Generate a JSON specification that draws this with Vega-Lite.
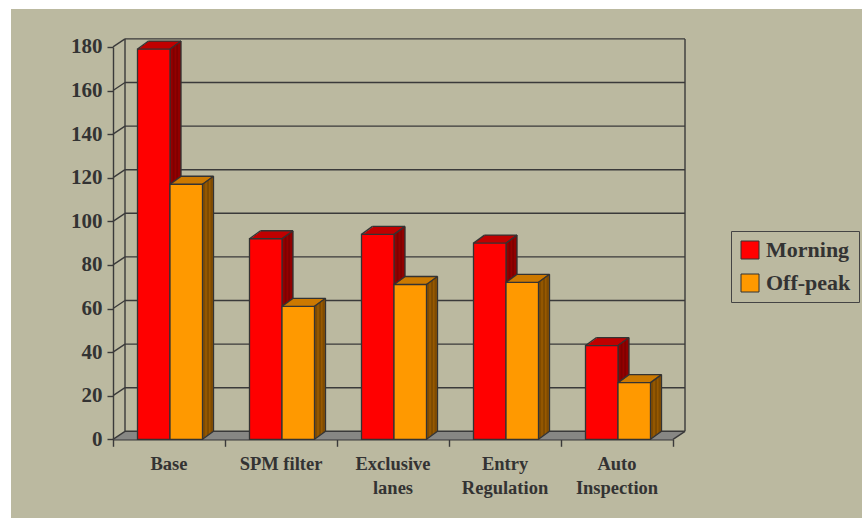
{
  "$schema": "https://vega.github.io/schema/vega-lite/v6.json",
  "width": 851,
  "height": 509,
  "autosize": {"type": "none"},
  "padding": {"left": 11, "top": 9, "right": 0, "bottom": 0},
  "background": "white",
  "config": {"view": {"fill": "#BBB9A0", "stroke": null}, "font": "Liberation Serif"},
  "datasets": {
    "bars": [
      {"cat": "Base", "s": "Morning", "v": 179},
      {"cat": "Base", "s": "Off-peak", "v": 117},
      {"cat": "SPM filter", "s": "Morning", "v": 92},
      {"cat": "SPM filter", "s": "Off-peak", "v": 61},
      {"cat": "Exclusive lanes", "s": "Morning", "v": 94},
      {"cat": "Exclusive lanes", "s": "Off-peak", "v": 71},
      {"cat": "Entry Regulation", "s": "Morning", "v": 90},
      {"cat": "Entry Regulation", "s": "Off-peak", "v": 72},
      {"cat": "Auto Inspection", "s": "Morning", "v": 43},
      {"cat": "Auto Inspection", "s": "Off-peak", "v": 26}
    ],
    "ticks": [{"t": 0}, {"t": 20}, {"t": 40}, {"t": 60}, {"t": 80}, {"t": 100}, {"t": 120}, {"t": 140}, {"t": 160}, {"t": 180}]
  },
  "resolve": {"scale": {"x": "independent"}},
  "layer": [
    {
      "data": {"values": [{}]},
      "encoding": {
        "x": {"datum": 0, "type": "quantitative", "scale": {"domain": [0, 1], "range": [102, 662]},
          "axis": {"orient": "bottom", "offset": -78.7, "title": null, "values": [0, 0.2, 0.4, 0.6, 0.8, 1], "labels": false, "grid": false,
            "tickSize": 7, "tickWidth": 1.4, "tickColor": "#3a3a3a", "domainColor": "#3a3a3a", "domainWidth": 1.4}},
        "x2": {"datum": 1}
      },
      "layer": [
        {"mark": {"type": "rule", "color": "#808080", "strokeWidth": 1.25, "strokeCap": "butt", "xOffset": 0.75, "x2Offset": 0.75, "yOffset": -0.5, "y2Offset": -0.5}, "encoding": {"y": {"datum": 0, "type": "quantitative"}, "y2": {"datum": 0}}},
        {"mark": {"type": "rule", "color": "#808080", "strokeWidth": 1.25, "strokeCap": "butt", "xOffset": 2.25, "x2Offset": 2.25, "yOffset": -1.5, "y2Offset": -1.5}, "encoding": {"y": {"datum": 0, "type": "quantitative"}, "y2": {"datum": 0}}},
        {"mark": {"type": "rule", "color": "#808080", "strokeWidth": 1.25, "strokeCap": "butt", "xOffset": 3.75, "x2Offset": 3.75, "yOffset": -2.5, "y2Offset": -2.5}, "encoding": {"y": {"datum": 0, "type": "quantitative"}, "y2": {"datum": 0}}},
        {"mark": {"type": "rule", "color": "#808080", "strokeWidth": 1.25, "strokeCap": "butt", "xOffset": 5.25, "x2Offset": 5.25, "yOffset": -3.5, "y2Offset": -3.5}, "encoding": {"y": {"datum": 0, "type": "quantitative"}, "y2": {"datum": 0}}},
        {"mark": {"type": "rule", "color": "#808080", "strokeWidth": 1.25, "strokeCap": "butt", "xOffset": 6.75, "x2Offset": 6.75, "yOffset": -4.5, "y2Offset": -4.5}, "encoding": {"y": {"datum": 0, "type": "quantitative"}, "y2": {"datum": 0}}},
        {"mark": {"type": "rule", "color": "#808080", "strokeWidth": 1.25, "strokeCap": "butt", "xOffset": 8.25, "x2Offset": 8.25, "yOffset": -5.5, "y2Offset": -5.5}, "encoding": {"y": {"datum": 0, "type": "quantitative"}, "y2": {"datum": 0}}},
        {"mark": {"type": "rule", "color": "#808080", "strokeWidth": 1.25, "strokeCap": "butt", "xOffset": 9.75, "x2Offset": 9.75, "yOffset": -6.5, "y2Offset": -6.5}, "encoding": {"y": {"datum": 0, "type": "quantitative"}, "y2": {"datum": 0}}},
        {"mark": {"type": "rule", "color": "#808080", "strokeWidth": 1.25, "strokeCap": "butt", "xOffset": 11.25, "x2Offset": 11.25, "yOffset": -7.5, "y2Offset": -7.5}, "encoding": {"y": {"datum": 0, "type": "quantitative"}, "y2": {"datum": 0}}},
        {
          "data": {"name": "ticks"},
          "mark": {"type": "rule", "color": "#3a3a3a", "strokeWidth": 1.4, "xOffset": 12, "x2Offset": 12, "yOffset": -8, "y2Offset": -8},
          "encoding": {"y": {"field": "t", "type": "quantitative"}, "y2": {"field": "t"}}
        },
        {
          "data": {"name": "ticks"},
          "mark": {"type": "rule", "color": "#3a3a3a", "strokeWidth": 1.4, "x2Offset": 12, "y2Offset": -8},
          "encoding": {"x2": {"datum": 0}, "y": {"field": "t", "type": "quantitative"}, "y2": {"field": "t"}}
        },
        {
          "mark": {"type": "rule", "color": "#3a3a3a", "strokeWidth": 1.4, "xOffset": 12, "x2Offset": 12, "yOffset": -8, "y2Offset": -8},
          "encoding": {"x2": {"datum": 0}, "y": {"datum": 0, "type": "quantitative"}, "y2": {"datum": 180}}
        },
        {
          "mark": {"type": "rule", "color": "#3a3a3a", "strokeWidth": 1.4, "xOffset": 12, "x2Offset": 12, "yOffset": -8, "y2Offset": -8},
          "encoding": {"x": {"datum": 1, "type": "quantitative"}, "x2": {"datum": 1}, "y": {"datum": 0, "type": "quantitative"}, "y2": {"datum": 180}}
        },
        {
          "mark": {"type": "rule", "color": "#3a3a3a", "strokeWidth": 1.4, "x2Offset": 12, "y2Offset": -8},
          "encoding": {"x": {"datum": 1, "type": "quantitative"}, "x2": {"datum": 1}, "y": {"datum": 0, "type": "quantitative"}, "y2": {"datum": 0}}
        }
      ]
    },
    {
      "data": {"name": "bars"},
      "encoding": {
        "x": {
          "field": "cat", "type": "nominal",
          "scale": {"domain": ["Base", "SPM filter", "Exclusive lanes", "Entry Regulation", "Auto Inspection"], "range": [102, 662], "paddingInner": 0.42, "paddingOuter": 0.21},
          "axis": {
            "orient": "bottom", "offset": -78.7, "title": null, "ticks": false, "domain": false,
            "labelAngle": 0, "labelPadding": 15, "labelFont": "Liberation Serif", "labelFontSize": 18.5,
            "labelFontWeight": "bold", "labelColor": "#333333", "labelLineHeight": 24,
            "labelExpr": "datum.label == 'SPM filter' || datum.label == 'Base' ? datum.label : split(datum.label, ' ')"
          }
        },
        "y": {
          "field": "v", "type": "quantitative",
          "scale": {"domain": [0, 180], "range": [430.3, 37.9], "nice": false, "zero": true},
          "axis": {
            "orient": "left", "offset": -102, "title": null, "values": [0, 20, 40, 60, 80, 100, 120, 140, 160, 180], "grid": false,
            "tickSize": 6, "tickWidth": 1.4, "tickColor": "#3a3a3a", "domainColor": "#3a3a3a", "domainWidth": 1.4,
            "labelPadding": 5, "labelFont": "Liberation Serif", "labelFontSize": 21, "labelFontWeight": "bold", "labelColor": "#333333"
          }
        }
      },
      "layer": [
        {"transform": [{"filter": "datum.s == 'Morning'"}], "mark": {"type": "bar", "width": 32.5, "xOffset": -4.25, "yOffset": -8, "y2Offset": -8, "color": "#C00000"}, "encoding": {"y2": {"datum": 0}}},
        {"transform": [{"filter": "datum.s == 'Morning'"}], "mark": {"type": "bar", "width": 1.5, "xOffset": 11.3125, "yOffset": -8, "y2Offset": -8, "color": "#800000"}, "encoding": {"y2": {"datum": 0}}},
        {"transform": [{"filter": "datum.s == 'Morning'"}], "mark": {"type": "bar", "width": 32.5, "xOffset": -5.625, "yOffset": -7, "y2Offset": -7, "color": "#C00000"}, "encoding": {"y2": {"datum": 0}}},
        {"transform": [{"filter": "datum.s == 'Morning'"}], "mark": {"type": "bar", "width": 1.5, "xOffset": 9.9375, "yOffset": -7, "y2Offset": -7, "color": "#800000"}, "encoding": {"y2": {"datum": 0}}},
        {"transform": [{"filter": "datum.s == 'Morning'"}], "mark": {"type": "bar", "width": 32.5, "xOffset": -7, "yOffset": -6, "y2Offset": -6, "color": "#C00000"}, "encoding": {"y2": {"datum": 0}}},
        {"transform": [{"filter": "datum.s == 'Morning'"}], "mark": {"type": "bar", "width": 1.5, "xOffset": 8.5625, "yOffset": -6, "y2Offset": -6, "color": "#800000"}, "encoding": {"y2": {"datum": 0}}},
        {"transform": [{"filter": "datum.s == 'Morning'"}], "mark": {"type": "bar", "width": 32.5, "xOffset": -8.375, "yOffset": -5, "y2Offset": -5, "color": "#C00000"}, "encoding": {"y2": {"datum": 0}}},
        {"transform": [{"filter": "datum.s == 'Morning'"}], "mark": {"type": "bar", "width": 1.5, "xOffset": 7.1875, "yOffset": -5, "y2Offset": -5, "color": "#800000"}, "encoding": {"y2": {"datum": 0}}},
        {"transform": [{"filter": "datum.s == 'Morning'"}], "mark": {"type": "bar", "width": 32.5, "xOffset": -9.75, "yOffset": -4, "y2Offset": -4, "color": "#C00000"}, "encoding": {"y2": {"datum": 0}}},
        {"transform": [{"filter": "datum.s == 'Morning'"}], "mark": {"type": "bar", "width": 1.5, "xOffset": 5.8125, "yOffset": -4, "y2Offset": -4, "color": "#800000"}, "encoding": {"y2": {"datum": 0}}},
        {"transform": [{"filter": "datum.s == 'Morning'"}], "mark": {"type": "bar", "width": 32.5, "xOffset": -11.125, "yOffset": -3, "y2Offset": -3, "color": "#C00000"}, "encoding": {"y2": {"datum": 0}}},
        {"transform": [{"filter": "datum.s == 'Morning'"}], "mark": {"type": "bar", "width": 1.5, "xOffset": 4.4375, "yOffset": -3, "y2Offset": -3, "color": "#800000"}, "encoding": {"y2": {"datum": 0}}},
        {"transform": [{"filter": "datum.s == 'Morning'"}], "mark": {"type": "bar", "width": 32.5, "xOffset": -12.5, "yOffset": -2, "y2Offset": -2, "color": "#C00000"}, "encoding": {"y2": {"datum": 0}}},
        {"transform": [{"filter": "datum.s == 'Morning'"}], "mark": {"type": "bar", "width": 1.5, "xOffset": 3.0625, "yOffset": -2, "y2Offset": -2, "color": "#800000"}, "encoding": {"y2": {"datum": 0}}},
        {"transform": [{"filter": "datum.s == 'Morning'"}], "mark": {"type": "bar", "width": 32.5, "xOffset": -13.875, "yOffset": -1, "y2Offset": -1, "color": "#C00000"}, "encoding": {"y2": {"datum": 0}}},
        {"transform": [{"filter": "datum.s == 'Morning'"}], "mark": {"type": "bar", "width": 1.5, "xOffset": 1.6875, "yOffset": -1, "y2Offset": -1, "color": "#800000"}, "encoding": {"y2": {"datum": 0}}},
        {
          "transform": [{"filter": "datum.s == 'Morning'"}],
          "mark": {"type": "bar", "width": 32.5, "xOffset": -15.25, "stroke": "#333333", "strokeWidth": 1.3},
          "encoding": {"y2": {"datum": 0}, "color": {"field": "s", "type": "nominal", "scale": {"domain": ["Morning", "Off-peak"], "range": ["#FF0000", "#FF9900"]},
            "legend": {"title": null, "orient": "none", "legendX": 720, "legendY": 222, "symbolType": "square", "symbolSize": 324, "symbolStrokeColor": "#333333", "symbolStrokeWidth": 1,
              "labelFont": "Liberation Serif", "labelFontSize": 22, "labelFontWeight": "bold", "labelColor": "#333333", "labelOffset": 5, "rowPadding": 11, "padding": 8, "strokeColor": "#444444", "labelLimit": 300}}}
        },
        {"transform": [{"filter": "datum.s == 'Morning'"}], "mark": {"type": "bar", "width": 32.5, "xOffset": -4.25, "yOffset": -8, "y2Offset": -8, "fillOpacity": 0, "stroke": "#333333", "strokeWidth": 1.3}, "encoding": {"y2": {"field": "v"}}},
        {"transform": [{"filter": "datum.s == 'Morning'"}], "mark": {"type": "rule", "xOffset": 12, "yOffset": -8, "y2Offset": -8, "color": "#333333", "strokeWidth": 1.3}, "encoding": {"y2": {"datum": 0}}},
        {"transform": [{"filter": "datum.s == 'Morning'"}], "mark": {"type": "rule", "xOffset": -31.5, "x2Offset": -20.5, "y2Offset": -8, "color": "#333333", "strokeWidth": 1.3}, "encoding": {"x2": {"field": "cat"}, "y2": {"field": "v"}}},
        {"transform": [{"filter": "datum.s == 'Morning'"}], "mark": {"type": "rule", "xOffset": 1, "x2Offset": 12, "y2Offset": -8, "color": "#333333", "strokeWidth": 1.3}, "encoding": {"x2": {"field": "cat"}, "y2": {"field": "v"}}},

        {"transform": [{"filter": "datum.s == 'Off-peak'"}], "mark": {"type": "bar", "width": 32.5, "xOffset": 28.25, "yOffset": -8, "y2Offset": -8, "color": "#CC7A00"}, "encoding": {"y2": {"datum": 0}}},
        {"transform": [{"filter": "datum.s == 'Off-peak'"}], "mark": {"type": "bar", "width": 1.5, "xOffset": 43.8125, "yOffset": -8, "y2Offset": -8, "color": "#7F4B00"}, "encoding": {"y2": {"datum": 0}}},
        {"transform": [{"filter": "datum.s == 'Off-peak'"}], "mark": {"type": "bar", "width": 32.5, "xOffset": 26.875, "yOffset": -7, "y2Offset": -7, "color": "#CC7A00"}, "encoding": {"y2": {"datum": 0}}},
        {"transform": [{"filter": "datum.s == 'Off-peak'"}], "mark": {"type": "bar", "width": 1.5, "xOffset": 42.4375, "yOffset": -7, "y2Offset": -7, "color": "#7F4B00"}, "encoding": {"y2": {"datum": 0}}},
        {"transform": [{"filter": "datum.s == 'Off-peak'"}], "mark": {"type": "bar", "width": 32.5, "xOffset": 25.5, "yOffset": -6, "y2Offset": -6, "color": "#CC7A00"}, "encoding": {"y2": {"datum": 0}}},
        {"transform": [{"filter": "datum.s == 'Off-peak'"}], "mark": {"type": "bar", "width": 1.5, "xOffset": 41.0625, "yOffset": -6, "y2Offset": -6, "color": "#7F4B00"}, "encoding": {"y2": {"datum": 0}}},
        {"transform": [{"filter": "datum.s == 'Off-peak'"}], "mark": {"type": "bar", "width": 32.5, "xOffset": 24.125, "yOffset": -5, "y2Offset": -5, "color": "#CC7A00"}, "encoding": {"y2": {"datum": 0}}},
        {"transform": [{"filter": "datum.s == 'Off-peak'"}], "mark": {"type": "bar", "width": 1.5, "xOffset": 39.6875, "yOffset": -5, "y2Offset": -5, "color": "#7F4B00"}, "encoding": {"y2": {"datum": 0}}},
        {"transform": [{"filter": "datum.s == 'Off-peak'"}], "mark": {"type": "bar", "width": 32.5, "xOffset": 22.75, "yOffset": -4, "y2Offset": -4, "color": "#CC7A00"}, "encoding": {"y2": {"datum": 0}}},
        {"transform": [{"filter": "datum.s == 'Off-peak'"}], "mark": {"type": "bar", "width": 1.5, "xOffset": 38.3125, "yOffset": -4, "y2Offset": -4, "color": "#7F4B00"}, "encoding": {"y2": {"datum": 0}}},
        {"transform": [{"filter": "datum.s == 'Off-peak'"}], "mark": {"type": "bar", "width": 32.5, "xOffset": 21.375, "yOffset": -3, "y2Offset": -3, "color": "#CC7A00"}, "encoding": {"y2": {"datum": 0}}},
        {"transform": [{"filter": "datum.s == 'Off-peak'"}], "mark": {"type": "bar", "width": 1.5, "xOffset": 36.9375, "yOffset": -3, "y2Offset": -3, "color": "#7F4B00"}, "encoding": {"y2": {"datum": 0}}},
        {"transform": [{"filter": "datum.s == 'Off-peak'"}], "mark": {"type": "bar", "width": 32.5, "xOffset": 20, "yOffset": -2, "y2Offset": -2, "color": "#CC7A00"}, "encoding": {"y2": {"datum": 0}}},
        {"transform": [{"filter": "datum.s == 'Off-peak'"}], "mark": {"type": "bar", "width": 1.5, "xOffset": 35.5625, "yOffset": -2, "y2Offset": -2, "color": "#7F4B00"}, "encoding": {"y2": {"datum": 0}}},
        {"transform": [{"filter": "datum.s == 'Off-peak'"}], "mark": {"type": "bar", "width": 32.5, "xOffset": 18.625, "yOffset": -1, "y2Offset": -1, "color": "#CC7A00"}, "encoding": {"y2": {"datum": 0}}},
        {"transform": [{"filter": "datum.s == 'Off-peak'"}], "mark": {"type": "bar", "width": 1.5, "xOffset": 34.1875, "yOffset": -1, "y2Offset": -1, "color": "#7F4B00"}, "encoding": {"y2": {"datum": 0}}},
        {
          "transform": [{"filter": "datum.s == 'Off-peak'"}],
          "mark": {"type": "bar", "width": 32.5, "xOffset": 17.25, "stroke": "#333333", "strokeWidth": 1.3},
          "encoding": {"y2": {"datum": 0}, "color": {"field": "s", "type": "nominal", "scale": {"domain": ["Morning", "Off-peak"], "range": ["#FF0000", "#FF9900"]},
            "legend": {"title": null, "orient": "none", "legendX": 720, "legendY": 222, "symbolType": "square", "symbolSize": 324, "symbolStrokeColor": "#333333", "symbolStrokeWidth": 1,
              "labelFont": "Liberation Serif", "labelFontSize": 22, "labelFontWeight": "bold", "labelColor": "#333333", "labelOffset": 5, "rowPadding": 11, "padding": 8, "strokeColor": "#444444", "labelLimit": 300}}}
        },
        {"transform": [{"filter": "datum.s == 'Off-peak'"}], "mark": {"type": "bar", "width": 32.5, "xOffset": 28.25, "yOffset": -8, "y2Offset": -8, "fillOpacity": 0, "stroke": "#333333", "strokeWidth": 1.3}, "encoding": {"y2": {"field": "v"}}},
        {"transform": [{"filter": "datum.s == 'Off-peak'"}], "mark": {"type": "rule", "xOffset": 44.5, "yOffset": -8, "y2Offset": -8, "color": "#333333", "strokeWidth": 1.3}, "encoding": {"y2": {"datum": 0}}},
        {"transform": [{"filter": "datum.s == 'Off-peak'"}], "mark": {"type": "rule", "xOffset": 1, "x2Offset": 12, "y2Offset": -8, "color": "#333333", "strokeWidth": 1.3}, "encoding": {"x2": {"field": "cat"}, "y2": {"field": "v"}}},
        {"transform": [{"filter": "datum.s == 'Off-peak'"}], "mark": {"type": "rule", "xOffset": 33.5, "x2Offset": 44.5, "y2Offset": -8, "color": "#333333", "strokeWidth": 1.3}, "encoding": {"x2": {"field": "cat"}, "y2": {"field": "v"}}}
      ]
    },
    {
      "data": {"name": "bars"},
      "transform": [{"filter": "datum.s == 'Off-peak'"}],
      "mark": {"type": "rule", "xOffset": 33.5, "x2Offset": 44.5, "y2Offset": -8, "color": "#333333", "strokeWidth": 1.3},
      "encoding": {
        "x": {"field": "cat", "type": "nominal", "axis": null,
          "scale": {"domain": ["Base", "SPM filter", "Exclusive lanes", "Entry Regulation", "Auto Inspection"], "range": [102, 662], "paddingInner": 0.42, "paddingOuter": 0.21}},
        "x2": {"field": "cat"},
        "y": {"datum": 0, "type": "quantitative"},
        "y2": {"datum": 0}
      }
    }
  ]
}
